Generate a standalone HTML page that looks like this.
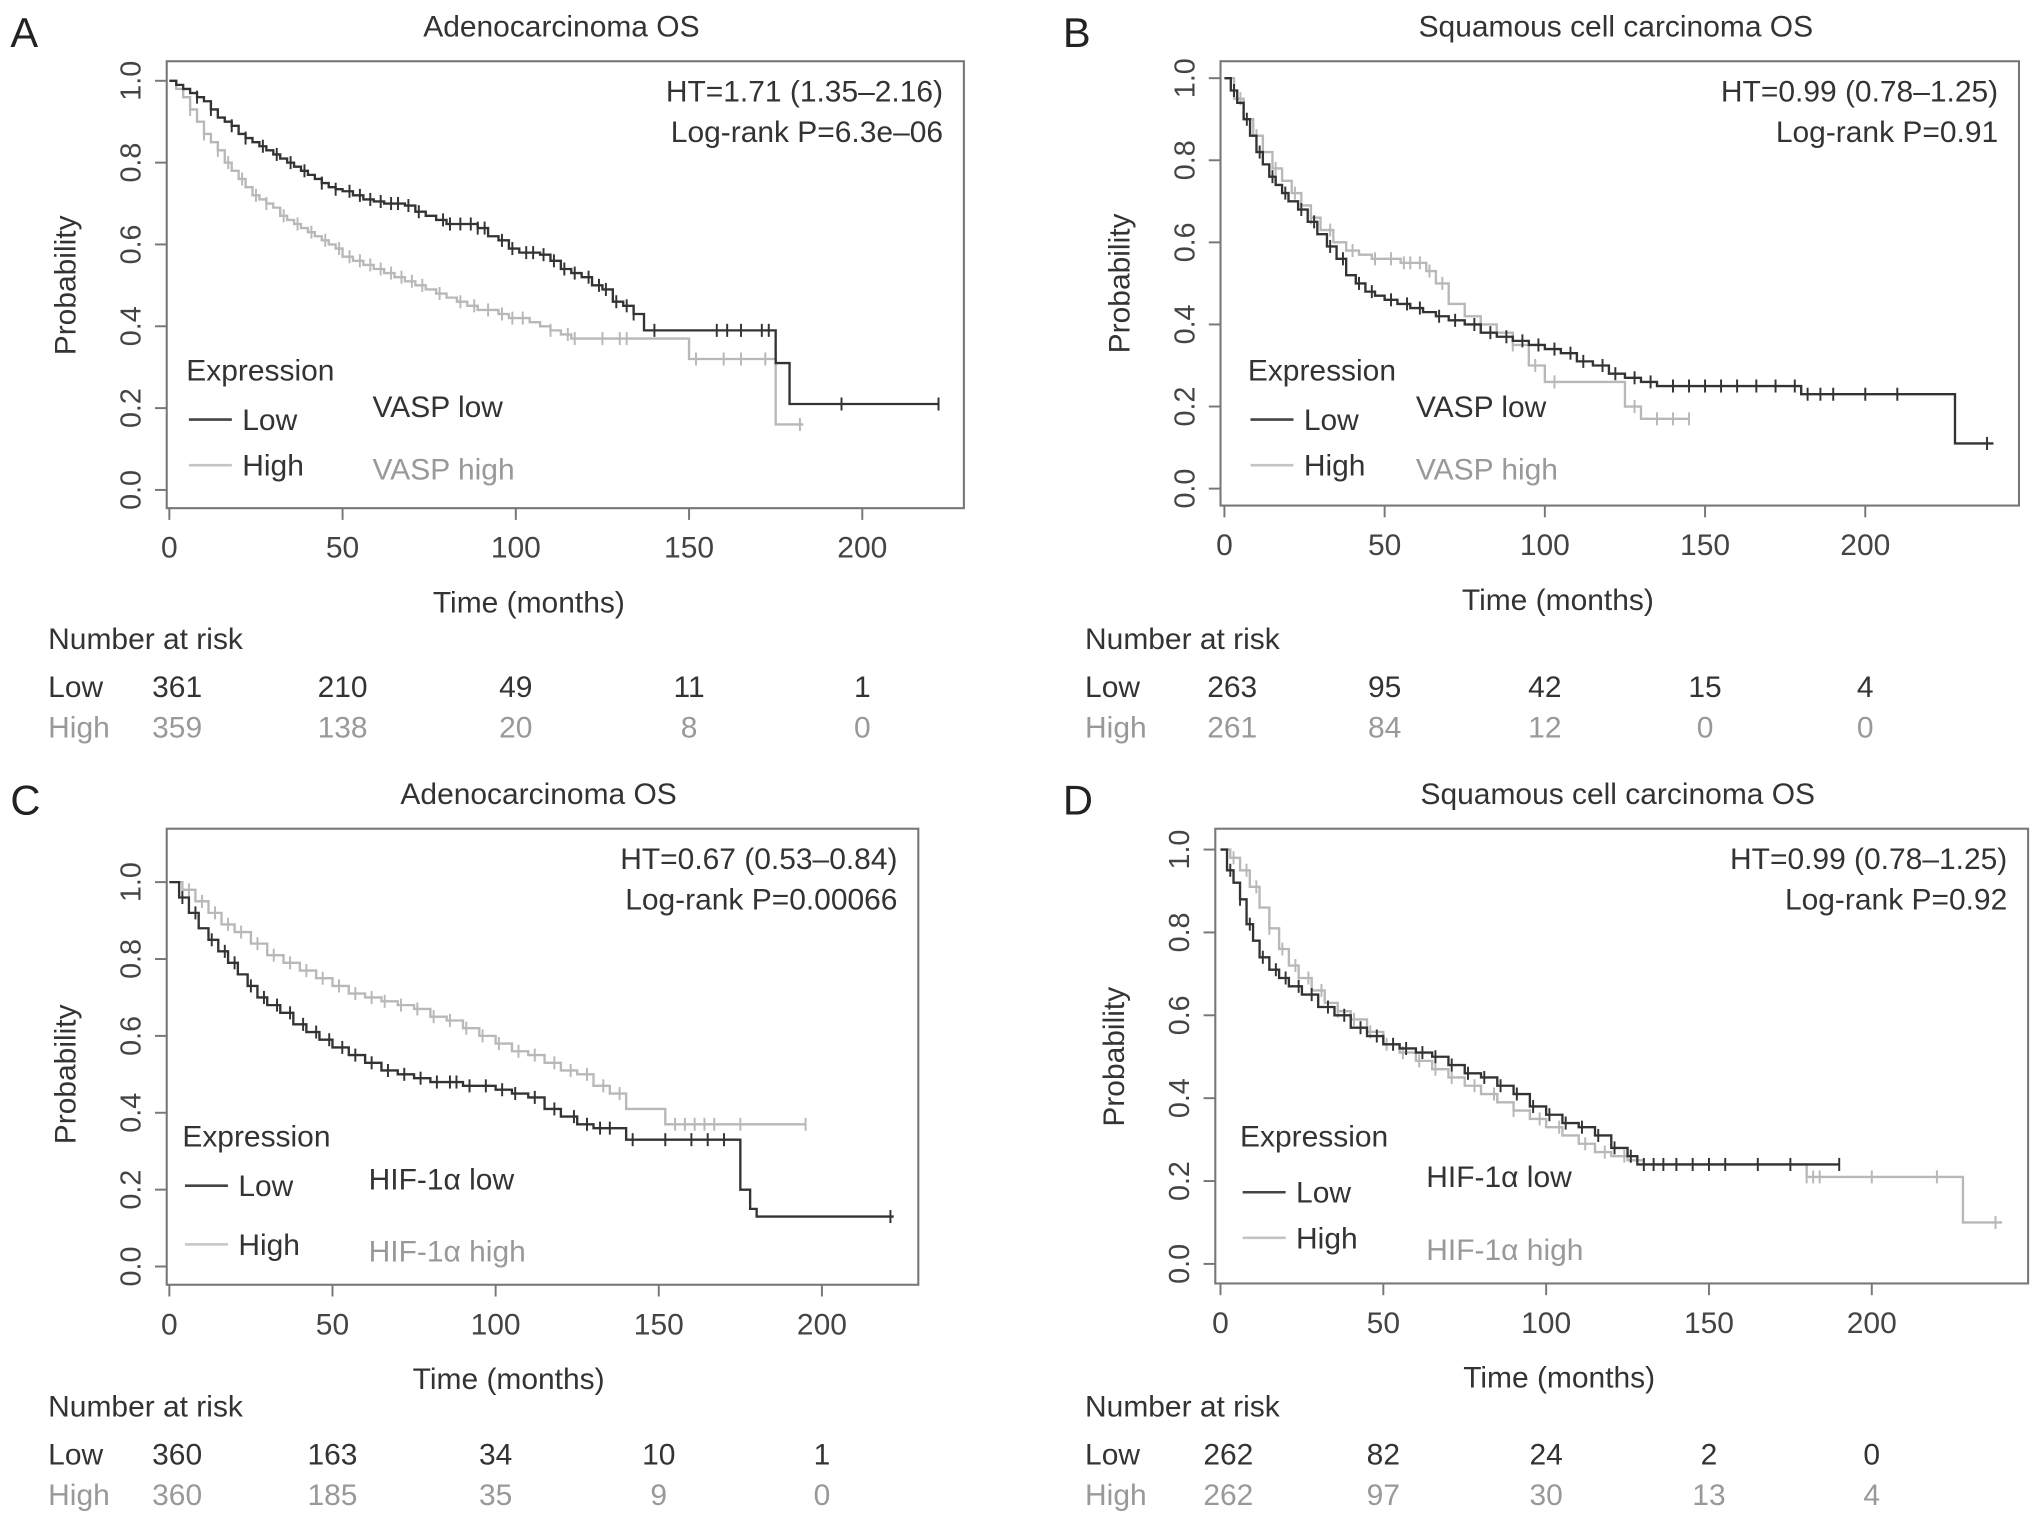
<!DOCTYPE html>
<html><head><meta charset="utf-8"><style>
html,body{margin:0;padding:0;background:#fff;}
svg{display:block;font-family:"Liberation Sans",sans-serif;}
</style></head><body>
<svg id="fig" width="2032" height="1518" viewBox="0 0 1560 1165" preserveAspectRatio="none" xmlns="http://www.w3.org/2000/svg"></svg>
<script>
// ---- data ----
const xTicks = [0, 50, 100, 150, 200];
const yTicks = [0.0, 0.2, 0.4, 0.6, 0.8, 1.0];
const yTickLabels = ["0.0", "0.2", "0.4", "0.6", "0.8", "1.0"];

// Panel A (VASP, adenocarcinoma)
const aLowT = [0,2,4,6,8,10,12,14,16,18,20,22,24,26,28,30,32,34,36,38,40,42,44,46,48,50,53,56,59,62,65,68,71,74,77,80,83,86,89,92,95,98,101,104,107,110,113,116,119,122,125,128,131,134,137,175,179,222];
const aLowS = [1,.99,.98,.97,.96,.95,.93,.91,.90,.89,.87,.86,.85,.84,.83,.82,.81,.80,.79,.78,.77,.76,.75,.74,.735,.73,.72,.71,.705,.70,.70,.695,.68,.67,.66,.65,.65,.65,.64,.62,.61,.59,.58,.58,.575,.56,.54,.53,.52,.50,.49,.46,.45,.43,.39,.31,.21,.21];
const aHighT = [0,2,4,6,8,10,12,14,16,18,20,22,24,26,28,30,32,34,36,38,40,42,44,46,48,50,53,56,59,62,65,68,71,74,77,80,83,86,89,92,95,98,101,104,107,110,113,116,150,175,183];
const aHighS = [1,.98,.96,.93,.90,.87,.85,.83,.80,.78,.76,.74,.72,.71,.70,.69,.67,.66,.65,.64,.63,.62,.61,.60,.59,.57,.56,.55,.54,.53,.52,.51,.50,.49,.48,.47,.46,.45,.44,.44,.43,.42,.42,.41,.40,.39,.38,.37,.32,.16,.16];
const aLowCens = [8,12,18,22,27,31,35,39,44,48,52,55,58,61,64,66,69,72,79,81,84,87,89,91,96,99,103,105,108,111,114,117,121,124,126,129,132,134,140,158,161,165,171,173,194,222];
const aHighCens = [6,10,14,17,21,25,28,33,37,41,45,49,52,55,58,61,64,67,70,73,78,84,88,92,96,99,102,110,115,117,125,130,132,152,160,165,172,182];
const aRiskLow = [361, 210, 49, 11, 1];
const aRiskHigh = [359, 138, 20, 8, 0];

// Panel B (VASP, squamous)
const bLowT = [0,2,4,6,8,10,12,14,16,18,20,23,26,29,32,35,38,41,44,47,50,54,58,62,66,70,75,80,85,90,95,100,105,110,115,120,125,130,135,180,228,240];
const bLowS = [1,.97,.94,.90,.86,.82,.79,.76,.74,.72,.70,.68,.65,.62,.59,.56,.52,.50,.48,.47,.46,.45,.44,.43,.42,.41,.40,.38,.37,.36,.35,.34,.33,.31,.30,.28,.27,.26,.25,.23,.11,.11];
const bHighT = [0,3,6,9,12,15,18,21,24,27,30,34,38,42,46,50,55,60,63,66,70,75,80,85,90,95,100,125,130,145];
const bHighS = [1,.95,.90,.86,.82,.78,.75,.72,.69,.66,.63,.60,.58,.57,.56,.56,.55,.55,.53,.50,.45,.42,.40,.38,.35,.30,.26,.20,.17,.17];
const bLowCens = [3,7,11,15,19,24,28,33,37,42,46,52,57,61,67,72,78,83,88,93,98,103,108,112,118,122,128,133,140,145,150,155,160,166,172,178,182,186,190,200,210,238];
const bHighCens = [5,10,16,22,27,33,40,47,52,56,58,61,64,68,80,90,97,103,128,135,140,145];
const bRiskLow = [263, 95, 42, 15, 4];
const bRiskHigh = [261, 84, 12, 0, 0];

// Panel C (HIF-1a, adenocarcinoma)
const cLowT = [0,3,6,9,12,15,18,21,24,27,30,34,38,42,46,50,55,60,65,70,75,80,85,90,95,100,105,110,115,120,125,130,140,175,178,180,222];
const cLowS = [1,.96,.92,.88,.85,.82,.79,.76,.73,.70,.68,.66,.63,.61,.59,.57,.55,.53,.51,.50,.49,.48,.48,.47,.47,.46,.45,.44,.41,.39,.37,.36,.33,.20,.15,.13,.13];
const cLowCens = [4,8,13,17,20,25,29,33,37,41,45,49,53,57,62,67,72,77,82,86,88,92,97,102,106,112,118,124,128,132,135,142,152,160,165,170,221];
const cHighT = [0,4,8,12,16,20,25,30,35,40,45,50,55,60,65,70,75,80,85,90,95,100,105,110,115,120,125,130,135,140,150,152,195];
const cHighS = [1,.98,.95,.92,.89,.87,.84,.81,.79,.77,.75,.73,.71,.70,.69,.68,.67,.65,.64,.62,.60,.58,.56,.55,.53,.51,.50,.47,.45,.41,.41,.37,.37];
const cHighCens = [6,10,14,18,22,27,32,37,42,47,52,57,62,66,71,76,81,86,91,96,101,107,112,118,123,128,133,138,155,158,161,164,167,175,195];
const cRiskLow = [360, 163, 34, 10, 1];
const cRiskHigh = [360, 185, 35, 9, 0];

// Panel D (HIF-1a, squamous)
const dLowT = [0,2,4,6,8,10,12,15,18,21,25,30,35,40,45,50,55,60,65,70,75,80,85,90,95,100,105,110,115,120,125,128,190];
const dLowS = [1,.95,.92,.88,.82,.78,.74,.71,.69,.67,.65,.62,.60,.57,.55,.53,.52,.51,.50,.48,.46,.45,.43,.41,.38,.36,.34,.33,.31,.28,.26,.24,.24];
const dHighT = [0,3,6,9,12,15,18,21,24,28,32,36,40,45,50,55,60,65,70,75,80,85,90,95,100,105,110,115,120,125,130,180,228,240];
const dHighS = [1,.98,.95,.91,.86,.81,.76,.72,.69,.66,.63,.61,.59,.56,.53,.51,.49,.47,.45,.43,.41,.39,.37,.35,.33,.31,.29,.27,.26,.25,.24,.21,.10,.10];
const dLowCens = [3,6,9,13,17,20,24,28,33,38,43,48,53,57,62,66,71,76,81,86,91,96,101,106,111,116,121,126,130,133,136,140,145,150,155,165,175,190];
const dHighCens = [4,8,11,15,19,23,27,31,36,41,46,51,56,61,66,71,78,84,90,98,104,112,118,124,180,182,184,200,220,238];
const dRiskLow = [262, 82, 24, 2, 0];
const dRiskHigh = [262, 97, 30, 13, 4];

const panels = [
 {id:"a", letter:"A", title:"Adenocarcinoma OS", bx:128, by:47, bw:612, bh:343, x0:130, xs:2.66, y0:376, ys:314,
  hr:"HT=1.71 (1.35–2.16)", lp:"Log-rank P=6.3e–06", gene:"VASP", lowT:aLowT, lowS:aLowS, highT:aHighT, highS:aHighS,
  lowC:aLowCens, highC:aHighCens, rl:aRiskLow, rh:aRiskHigh, ox:0, oy:0, lx:143, ly:292, gx:286, g1:320, g2:368, l1:322, l2:357},
 {id:"b", letter:"B", title:"Squamous cell carcinoma OS", bx:937, by:47, bw:613, bh:341, x0:940, xs:2.46, y0:375, ys:315,
  hr:"HT=0.99 (0.78–1.25)", lp:"Log-rank P=0.91", gene:"VASP", lowT:bLowT, lowS:bLowS, highT:bHighT, highS:bHighS,
  lowC:bLowCens, highC:bHighCens, rl:bRiskLow, rh:bRiskHigh, ox:796, oy:0, lx:958, ly:292, gx:1087, g1:320, g2:368, l1:322, l2:357},
 {id:"c", letter:"C", title:"Adenocarcinoma OS", bx:128, by:636, bw:577, bh:350, x0:130, xs:2.505, y0:972, ys:295,
  hr:"HT=0.67 (0.53–0.84)", lp:"Log-rank P=0.00066", gene:"HIF-1α", lowT:cLowT, lowS:cLowS, highT:cHighT, highS:cHighS,
  lowC:cLowCens, highC:cHighCens, rl:cRiskLow, rh:cRiskHigh, ox:0, oy:589, lx:140, ly:880, gx:283, g1:913, g2:968, l1:910, l2:955},
 {id:"d", letter:"D", title:"Squamous cell carcinoma OS", bx:933, by:636, bw:624, bh:349, x0:937, xs:2.5, y0:970, ys:318,
  hr:"HT=0.99 (0.78–1.25)", lp:"Log-rank P=0.92", gene:"HIF-1α", lowT:dLowT, lowS:dLowS, highT:dHighT, highS:dHighS,
  lowC:dLowCens, highC:dHighCens, rl:dRiskLow, rh:dRiskHigh, ox:796, oy:589, lx:952, ly:880, gx:1095, g1:911, g2:967, l1:915, l2:950}
];

const NS = "http://www.w3.org/2000/svg";
const svg = document.getElementById("fig");
function mk(tag, attrs, parent, text) {
  const e = document.createElementNS(NS, tag);
  for (const k in attrs) e.setAttribute(k, attrs[k]);
  if (text !== undefined) e.textContent = text;
  (parent || svg).appendChild(e);
  return e;
}
function stepAt(T, S, t) { let v = S[0]; for (let i = 0; i < T.length; i++) { if (T[i] <= t) v = S[i]; } return v; }

panels.forEach(p => {
  const g = mk("g", {});
  
  
  const X = t => p.x0 + p.xs * t;
  const Y = s => p.y0 - p.ys * s;

  let e = mk("text", {x: p.ox + 8 + (p.ox ? 12 : 0), y: p.oy + 36, "font-size": 32, fill: "#222"}, g, p.letter);
  
  
  e = mk("text", {x: p.bx + p.bw / 2 - 3, y: p.by - 19, "font-size": 23, fill: "#333", "text-anchor": "middle"}, g, p.title);
  
  

  e = mk("rect", {x: p.bx, y: p.by, width: p.bw, height: p.bh, fill: "none", stroke: "#777", "stroke-width": 1.6}, g);
  
  

  yTicks.forEach((v, i) => {
    let t = mk("line", {x1: p.bx - 9, x2: p.bx, y1: Y(v), y2: Y(v), stroke: "#777", "stroke-width": 1.5}, g);
    
    
    let l = mk("text", {x: 0, y: 0, "font-size": 22, fill: "#444", "text-anchor": "middle", transform: `translate(${p.bx - 20},${Y(v)}) rotate(-90)`}, g, yTickLabels[i]);
    
    
  });
  e = mk("text", {x: 0, y: 0, "font-size": 23, fill: "#333", "text-anchor": "middle", transform: `translate(${p.bx - 70},${Y(0.5)}) rotate(-90)`}, g, "Probability");
  
  

  xTicks.forEach(v => {
    let t = mk("line", {x1: X(v), x2: X(v), y1: p.by + p.bh, y2: p.by + p.bh + 9, stroke: "#777", "stroke-width": 1.5}, g);
    
    
    let l = mk("text", {x: X(v), y: p.by + p.bh + 38, "font-size": 23, fill: "#444", "text-anchor": "middle"}, g, String(v));
    
    
  });
  e = mk("text", {x: X(0) + (X(200) - X(0)) * 0.5 + 10, y: p.by + p.bh + 80, "font-size": 23, fill: "#333", "text-anchor": "middle"}, g, "Time (months)");
  
  

  [["high", p.highT, p.highS, p.highC, "#b8b8b8"], ["low", p.lowT, p.lowS, p.lowC, "#333"]].forEach(([nm, T, S, C, col]) => {
    let d = `M${X(T[0])},${Y(S[0])}`;
    for (let i = 1; i < T.length; i++) { d += ` H${X(T[i])} V${Y(S[i])}`; }
    let path = mk("path", {d: d, fill: "none", stroke: col, "stroke-width": 1.8}, g);
    
    
    C.forEach(t => {
      const s = stepAt(T, S, t);
      let c = mk("line", {x1: X(t), x2: X(t), y1: Y(s) - 5, y2: Y(s) + 5, stroke: col, "stroke-width": 1.5}, g);
      
      
    });
  });

  e = mk("text", {x: p.bx + p.bw - 16, y: p.by + 31, "font-size": 23, fill: "#333", "text-anchor": "end"}, g, p.hr);
  
  
  e = mk("text", {x: p.bx + p.bw - 16, y: p.by + 62, "font-size": 23, fill: "#333", "text-anchor": "end"}, g, p.lp);
  
  

  e = mk("text", {x: p.lx, y: p.ly, "font-size": 23, fill: "#333"}, g, "Expression");
  
  
  e = mk("line", {x1: p.lx + 2, x2: p.lx + 35, y1: p.l1, y2: p.l1, stroke: "#444", "stroke-width": 2}, g);
  
  
  e = mk("text", {x: p.lx + 43, y: p.l1 + 8, "font-size": 23, fill: "#333"}, g, "Low");
  
  
  e = mk("line", {x1: p.lx + 2, x2: p.lx + 35, y1: p.l2, y2: p.l2, stroke: "#c4c4c4", "stroke-width": 2}, g);
  
  
  e = mk("text", {x: p.lx + 43, y: p.l2 + 8, "font-size": 23, fill: "#333"}, g, "High");
  
  
  e = mk("text", {x: p.gx, y: p.g1, "font-size": 23, fill: "#333"}, g, p.gene + " low");
  
  
  e = mk("text", {x: p.gx, y: p.g2, "font-size": 23, fill: "#999"}, g, p.gene + " high");
  
  

  const rx = p.ox + 37, ry = p.oy + 498;
  e = mk("text", {x: rx, y: ry, "font-size": 23, fill: "#333"}, g, "Number at risk");
  
  
  e = mk("text", {x: rx, y: ry + 37, "font-size": 23, fill: "#333"}, g, "Low");
  
  
  e = mk("text", {x: rx, y: ry + 68, "font-size": 23, fill: "#999"}, g, "High");
  
  
  xTicks.forEach((v, i) => {
    const cx = X(v) + (i === 0 ? 6 : 0);
    let a = mk("text", {x: cx, y: ry + 37, "font-size": 23, fill: "#333", "text-anchor": "middle"}, g, String(p.rl[i]));
    
    
    let b = mk("text", {x: cx, y: ry + 68, "font-size": 23, fill: "#999", "text-anchor": "middle"}, g, String(p.rh[i]));
    
    
  });
});
</script>
</body></html>
